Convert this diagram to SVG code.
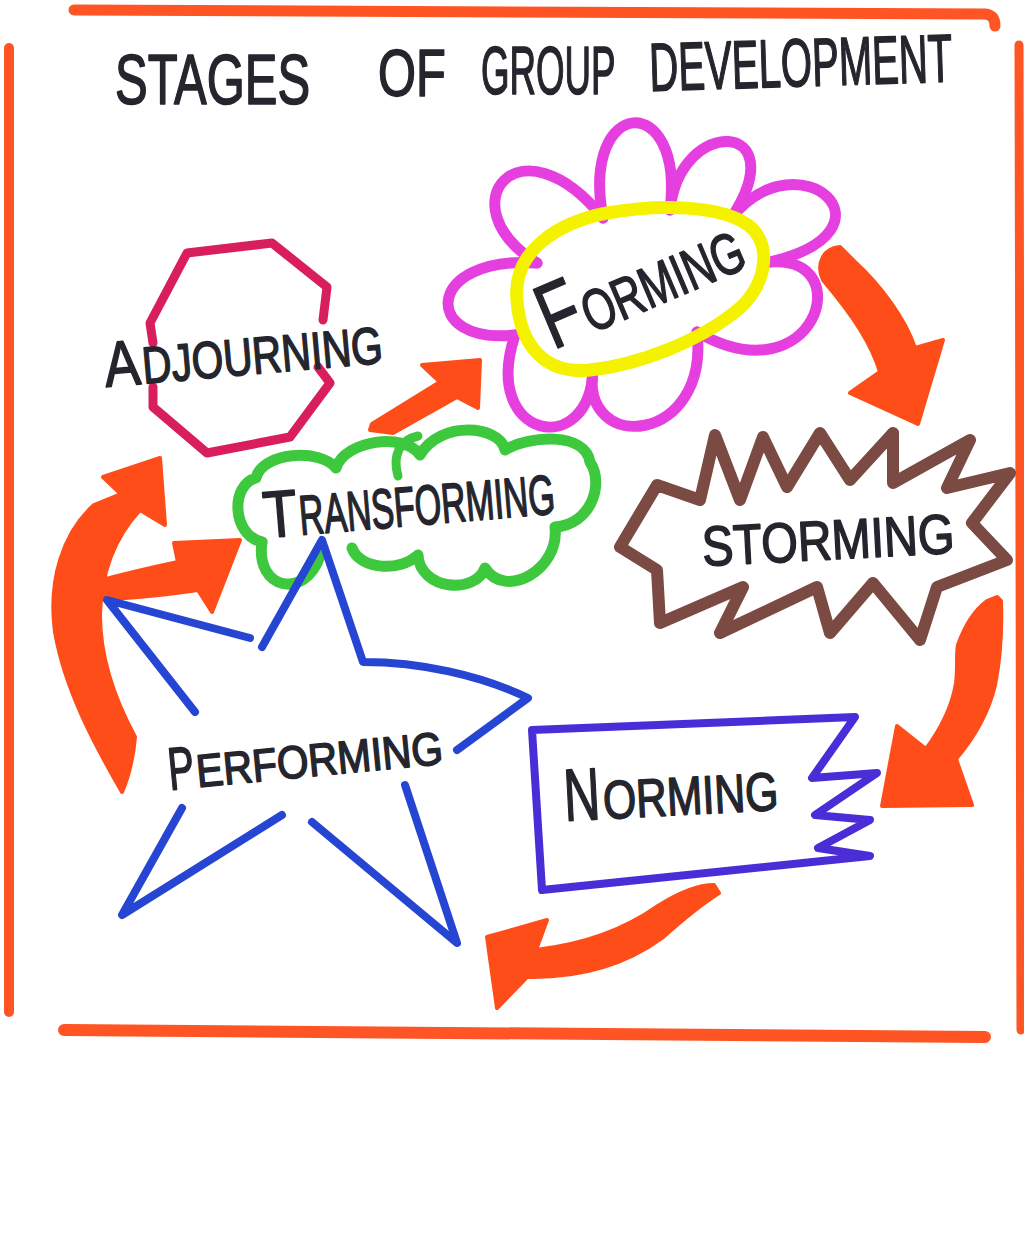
<svg xmlns="http://www.w3.org/2000/svg" width="1024" height="1241" viewBox="0 0 1024 1241">
<style>
.ln{fill:none;stroke-linecap:round;stroke-linejoin:round}
.frame{fill:none;stroke:#FF5424;stroke-linecap:round}
.arr{fill:#FF4D1A;stroke:#FF4D1A;stroke-width:4;stroke-linejoin:round}
.t{font-family:"Liberation Sans",Arial,sans-serif;fill:#25252E;stroke:#25252E;stroke-width:1.6;stroke-linejoin:round}
</style>
<rect width="1024" height="1241" fill="#ffffff"/>
<g id="frame">
<path class="frame" d="M74,10 L985,14 Q995,15 995,26" stroke-width="11"/>
<path class="frame" d="M9,48 L9,1012" stroke-width="10"/>
<path class="frame" d="M1019,45 L1021,1030" stroke-width="9"/>
<path class="frame" d="M64,1030 L985,1037" stroke-width="12"/>
</g>
<g id="title">
<text class="t" font-size="70" transform="translate(115,104) scale(0.70,1)">STAGES</text>
<text class="t" font-size="66" transform="translate(378,96) scale(0.74,1)">OF</text>
<text class="t" font-size="68" transform="translate(481,94) scale(0.54,1)">GROUP</text>
<text class="t" font-size="68" transform="translate(650,91) rotate(-1.8) scale(0.59,1)">DEVELOPMENT</text>
</g>
<g id="connectors">
<path id="forming-storming" class="arr" d="M823,280 C815,262 825,248 840,247 L855,262 C880,285 905,318 915,348 L943,340 L918,424 L850,393 L880,372 C872,345 855,318 823,280 Z"/>
<path id="storming-norming" class="arr" d="M987,601 L997,597 L1001,601 C1002,630 1000,660 995,685 C988,715 972,740 956,759 L972,805 L882,806 L897,726 L926,749 C940,730 952,708 956,683 C958,668 956,655 958,645 C965,625 975,610 987,601 Z"/>
<path id="norming-performing" class="arr" d="M487,937 L547,920 L536,950 C580,945 620,933 658,906 C680,892 700,885 714,885 L719,893 C700,905 682,920 662,938 C625,965 580,978 527,977 L497,1008 Z"/>
<path id="performing-adjourning" class="arr" d="M122,792 C95,745 65,690 55,632 C48,580 63,533 94,505 L121,494 L103,477 L160,458 L165,525 L140,510 C116,536 101,572 100,615 C100,660 115,700 135,737 C133,760 128,778 122,792 Z"/>
<path id="performing-transforming" class="arr" d="M95,582 C120,575 150,568 178,562 L174,543 L240,540 L212,612 L198,590 C165,595 130,598 97,600 Z"/>
<path id="transforming-forming" class="arr" d="M370,430 L372,424 L440,382 L422,365 L480,360 L478,408 L457,397 L393,433 Z"/>
</g>
<g id="adjourning">
<path class="ln" stroke="#D81E5C" stroke-width="9" d="M323,320 L327,287 L272,243 L187,253 L150,323 L153,343"/>
<path class="ln" stroke="#D81E5C" stroke-width="9" d="M318,367 L330,383 L290,437 L207,453 L153,407 L153,387"/>
<g transform="translate(106,387) rotate(-5)">
<text class="t" font-size="64" transform="scale(0.84,1)">A</text>
<text class="t" font-size="52" transform="translate(38,0) scale(0.78,1)">DJOURNING</text>
</g>
</g>
<g id="forming">
<g class="ln" stroke="#E63FE0" stroke-width="11">
<path d="M515,335 C420,345 425,255 537,263"/>
<path d="M537,263 C445,205 520,115 603,218"/>
<path d="M603,218 C580,95 685,90 670,210"/>
<path d="M670,210 C680,115 795,120 732,217"/>
<path d="M732,217 C800,135 905,230 770,262"/>
<path d="M770,262 C860,255 815,400 697,332"/>
<path d="M697,332 C710,445 580,455 593,370"/>
<path d="M593,370 C590,460 480,440 515,335"/>
</g>
<path class="ln" stroke="#F5F200" stroke-width="13" d="M517,300 C512,250 560,222 607,213 C660,204 720,205 748,225 C775,245 765,290 735,312 C700,340 640,365 590,370 C545,375 520,345 517,300 Z"/>
<g transform="translate(553,350) rotate(-23)">
<text class="t" font-size="92" transform="scale(0.71,1)">F</text>
<text class="t" font-size="58" transform="translate(42,0) scale(0.72,1)">ORMING</text>
</g>
</g>
<g id="storming">
<path class="ln" stroke="#7A4A43" stroke-width="12" d="M620,547 L657,485 L700,500 L715,435 L740,500 L763,437 L787,487 L820,433 L850,480 L893,433 L893,483 L970,440 L947,488 L1010,473 L972,523 L1007,560 L937,587 L920,640 L873,583 L830,633 L817,587 L720,633 L743,587 L660,623 L657,570 Z"/>
<text class="t" font-size="56" transform="translate(703,566) rotate(-3) scale(0.84,1)">STORMING</text>
</g>
<g id="transforming">
<path class="ln" stroke="#3DC83D" stroke-width="11" d="M262,542 C232,535 230,485 256,478 C262,452 320,448 336,468 C345,440 405,432 420,455 C440,420 500,425 505,450 C530,435 585,432 590,462 C605,485 590,525 555,527 C560,570 505,600 485,568 C475,595 420,590 418,555 C400,572 360,570 352,548"/>
<path class="ln" stroke="#3DC83D" stroke-width="11" d="M320,556 C305,600 255,590 262,542"/>
<path class="ln" stroke="#3DC83D" stroke-width="9" d="M398,476 C392,455 400,440 418,436"/>
<g transform="translate(265,538) rotate(-4.8)">
<text class="t" font-size="66" transform="scale(0.85,1)">T</text>
<text class="t" font-size="56" transform="translate(36,0) scale(0.61,1)">RANSFORMING</text>
</g>
</g>
<g id="performing">
<g class="ln" stroke="#2545D2" stroke-width="8">
<path d="M250,638 L107,600 L195,712"/>
<path d="M262,647 L322,540 L363,662 C420,662 480,675 528,698 L457,750"/>
<path d="M405,785 L457,943 L312,822"/>
<path d="M282,815 L122,915 L182,808"/>
</g>
<g transform="translate(170,790) rotate(-5.5)">
<text class="t" font-size="60" transform="scale(0.65,1)">P</text>
<text class="t" font-size="46" transform="translate(28,0) scale(0.88,1)">ERFORMING</text>
</g>
</g>
<g id="norming">
<path class="ln" stroke="#4A2DD6" stroke-width="8" d="M532,730 L855,717 L812,778 L877,773 L815,815 L870,820 L818,848 L870,856 L542,890 Z"/>
<g transform="translate(565,821) rotate(-3)">
<text class="t" font-size="74" transform="scale(0.68,1)">N</text>
<text class="t" font-size="54" transform="translate(39,0) scale(0.79,1)">ORMING</text>
</g>
</g>
</svg>
